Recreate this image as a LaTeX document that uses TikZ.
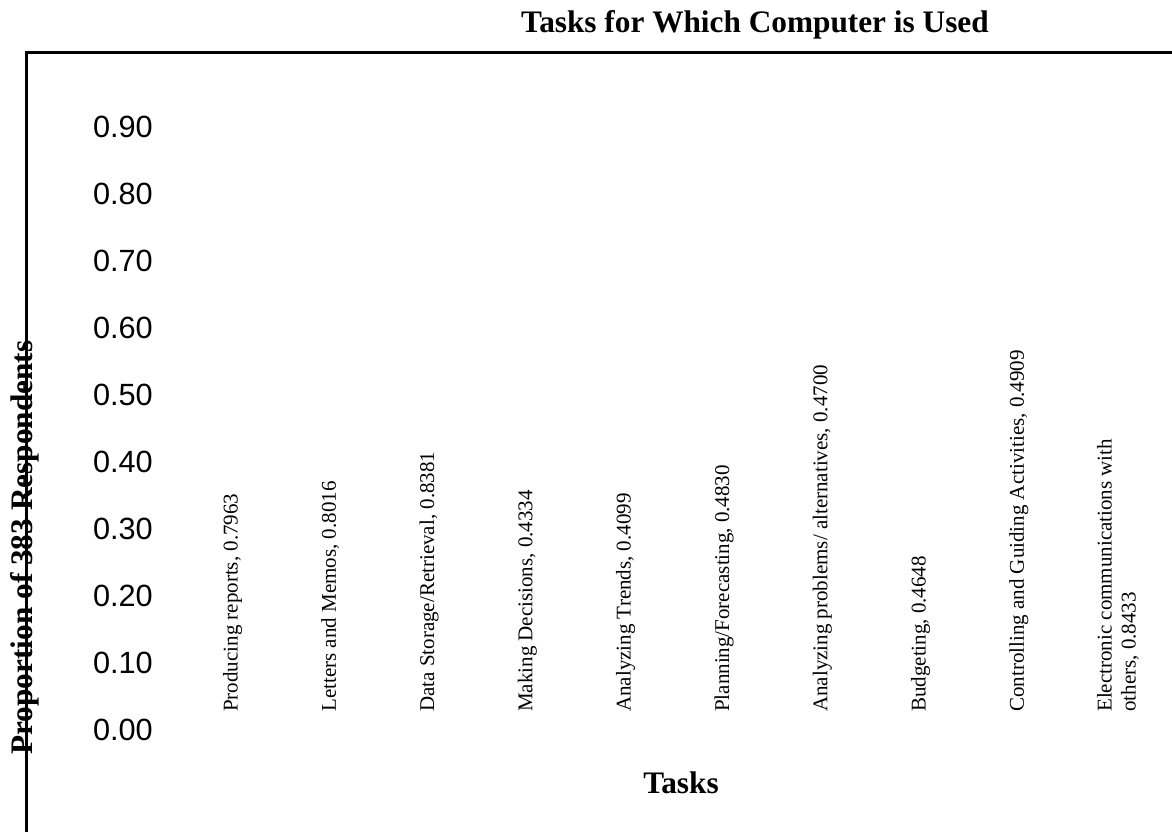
\documentclass[tikz,border=0pt]{standalone}
\usepackage{fontspec}
\setmainfont{Liberation Serif}
\newfontfamily\arialf{Liberation Sans}
\begin{document}
\begin{tikzpicture}[x=1bp,y=-1bp,
  ticklab/.style={font=\arialf\fontsize{30.7bp}{34bp}\selectfont, anchor=base east, inner sep=0},
  barlab/.style={font=\fontsize{21bp}{24bp}\selectfont, rotate=90, anchor=base west, inner sep=0},
  ttl/.style={font=\bfseries\fontsize{31.3bp}{36bp}\selectfont, inner sep=0},
  frame/.style={line width=3bp, line join=miter}]
\useasboundingbox (0,0) rectangle (1172,832);
% frame
\coordinate (fb) at (26.5,832);
\coordinate (fc) at (26.5,52.3);
\coordinate (fr) at (1172,52.3);
\draw[frame] (fb) -- (fc) -- (fr);
% titles
\node[ttl, anchor=base] (title) at (755,32) {Tasks for Which Computer is Used};
\node[ttl, rotate=90, anchor=base] (ylab) at (32,547.5) {Proportion of 383 Respondents};
\node[ttl, anchor=base] (xlab) at (681,793) {Tasks};
% tick labels
\node[ticklab] (t0) at (153,740) {0.00};
\node[ticklab] (t1) at (153,673) {0.10};
\node[ticklab] (t2) at (153,606) {0.20};
\node[ticklab] (t3) at (153,539) {0.30};
\node[ticklab] (t4) at (153,472) {0.40};
\node[ticklab] (t5) at (153,405) {0.50};
\node[ticklab] (t6) at (153,338) {0.60};
\node[ticklab] (t7) at (153,271) {0.70};
\node[ticklab] (t8) at (153,204) {0.80};
\node[ticklab] (t9) at (153,137) {0.90};
% category labels
\node[barlab] (b0) at (237.5,712) {Producing reports, 0.7963};
\node[barlab] (b1) at (335.8,712) {Letters and Memos, 0.8016};
\node[barlab] (b2) at (434.1,712) {Data Storage/Retrieval, 0.8381};
\node[barlab] (b3) at (532.4,712) {Making Decisions, 0.4334};
\node[barlab] (b4) at (630.7,712) {Analyzing Trends, 0.4099};
\node[barlab] (b5) at (729.0,712) {Planning/Forecasting, 0.4830};
\node[barlab] (b6) at (827.3,712) {Analyzing problems/ alternatives, 0.4700};
\node[barlab] (b7) at (925.6,712) {Budgeting, 0.4648};
\node[barlab] (b8) at (1023.9,712) {Controlling and Guiding Activities, 0.4909};
\node[barlab, align=left, anchor=west] (b9) at (1118,712) {Electronic communications with\\others, 0.8433};
\end{tikzpicture}
\end{document}
